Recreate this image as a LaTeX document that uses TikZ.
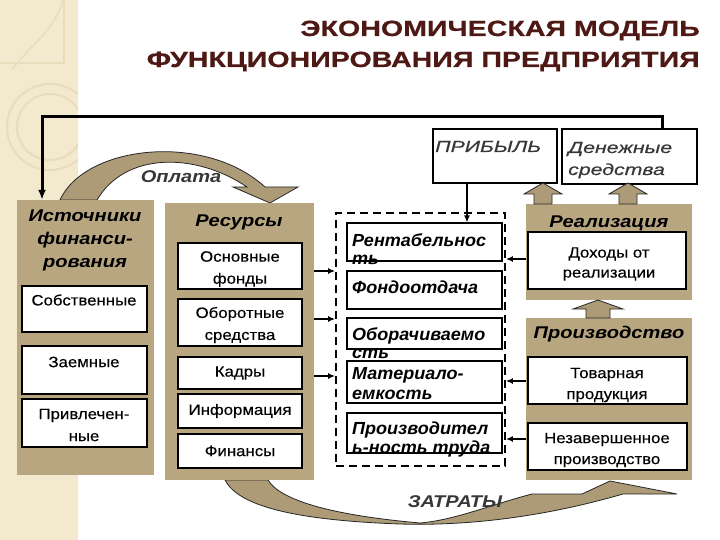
\documentclass[tikz,border=0pt]{standalone}
\usepackage{fontspec}
\setmainfont{Liberation Sans}
\newfontfamily\fTitle[FakeStretch=1.3,FakeBold=0.6]{Liberation Sans}
\newfontfamily\fHead[FakeStretch=1.18]{Liberation Sans}
\newfontfamily\fBody[FakeStretch=1.12,FakeBold=0.3]{Liberation Sans}
\newfontfamily\fDash[FakeStretch=1.03]{Liberation Sans}
\newfontfamily\fItal[FakeStretch=1.33,FakeBold=0.4]{Liberation Sans}
\usetikzlibrary{arrows.meta}
\definecolor{tan}{RGB}{184,166,128}
\definecolor{arrowtan}{RGB}{172,155,118}
\definecolor{strip}{RGB}{242,233,207}
\definecolor{stripline}{RGB}{232,220,188}
\definecolor{titlec}{RGB}{78,24,20}
\definecolor{txtgray}{RGB}{55,55,55}
\tikzset{
  tanbox/.style={fill=tan, draw=none, inner sep=0pt},
  wbox/.style={fill=white, draw=black, line width=1.1pt, inner sep=0pt},
  dashbox/.style={draw=black, line width=1.8pt, dash pattern=on 8pt off 5pt, inner sep=0pt},
  hdr/.style={font=\fHead\bfseries\itshape\fontsize{17}{23}\selectfont, align=center, inner sep=0pt},
  body/.style={font=\fBody\fontsize{15}{22}\selectfont, align=center, inner sep=0pt},
  dtxt/.style={font=\fDash\bfseries\itshape\fontsize{17.5}{20}\selectfont, anchor=base west, inner sep=0pt},
  itxt/.style={font=\fItal\itshape\fontsize{16}{22}\selectfont, text=txtgray, anchor=base west, inner sep=0pt},
  ttl/.style={font=\fTitle\bfseries\fontsize{22}{30}\selectfont, text=titlec, anchor=base east, inner sep=0pt},
  flow/.style={draw=black!85, line width=0.8pt, fill=arrowtan},
  conn/.style={line width=2pt, -{Latex[length=7pt,width=6pt]}},
  bigconn/.style={line width=3pt, -{Latex[length=10pt,width=8pt]}},
}
\begin{document}
\begin{tikzpicture}[x=1pt,y=-1pt]
\useasboundingbox (0,0) rectangle (720,540);
% left decorative strip
\fill[strip] (0,0) rectangle (78,540);
\begin{scope}
\clip (0,0) rectangle (78,540);
\draw[stripline, line width=2pt] (50,127) circle (33);
\draw[stripline, line width=2pt] (50,127) circle (43);
\draw[stripline, line width=1.5pt] (0,63) -- (64,63) -- (64,0);
\draw[stripline, line width=1.5pt] (63,0) .. controls (55,30) and (30,45) .. (12,70);
\end{scope}

% title
\node[ttl] (t1) at (700,36) {ЭКОНОМИЧЕСКАЯ МОДЕЛЬ};
\node[ttl] (t2) at (700,67) {ФУНКЦИОНИРОВАНИЯ ПРЕДПРИЯТИЯ};

% big flow arrows
\draw[flow] (60,200) .. controls (85,145) and (205,132) .. (265,187) -- (298,187) -- (270,203) -- (233,187) -- (247,187) .. controls (195,152) and (125,152) .. (97,200) -- cycle;
\draw[flow] (225,480) .. controls (238,505) and (290,520) .. (400,524) .. controls (500,527) and (585,505) .. (623,494) -- (677,494) -- (610,481) -- (582,494) -- (532,494) .. controls (490,505) and (455,520) .. (420,523) .. controls (330,515) and (280,500) .. (268,480) -- cycle;
\node[hdr, text=txtgray] (oplata) at (181,177) {Оплата};
\node[hdr, text=txtgray] (zatraty) at (455,502) {ЗАТРАТЫ};

% sources
\node[tanbox, minimum width=137pt, minimum height=275pt] (ist) at (85.5,337.5) {};
\node[wbox, minimum width=125pt, minimum height=46pt] (sob) at (84.5,309) {};
\node[wbox, minimum width=125pt, minimum height=48pt] (zaem) at (84.5,370) {};
\node[wbox, minimum width=125pt, minimum height=48pt] (priv) at (84.5,423) {};
\node[hdr] (isth) at (85,240) {Источники\\финанси-\\рования};
\node[body] (sobt) at (84,300) {Собственные};
\node[body] (zaemt) at (84,362) {Заемные};
\node[body] (privt) at (84,425) {Привлечен-\\ные};

% resources
\node[tanbox, minimum width=149pt, minimum height=277pt] (res) at (239.5,341.5) {};
\node[wbox, minimum width=124pt, minimum height=46pt] (osn) at (240,266) {};
\node[wbox, minimum width=124pt, minimum height=47pt] (obo) at (240,322.5) {};
\node[wbox, minimum width=124pt, minimum height=32pt] (kad) at (240,373) {};
\node[wbox, minimum width=124pt, minimum height=34pt] (inf) at (240,411) {};
\node[wbox, minimum width=124pt, minimum height=34pt] (fin) at (240,451) {};
\node[hdr] (resh) at (239,222) {Ресурсы};
\node[body] (osnt) at (240,269) {Основные\\фонды};
\node[body] (obot) at (240,325) {Оборотные\\средства};
\node[body] (kadt) at (240,373) {Кадры};
\node[body] (inft) at (240,411) {Информация};
\node[body] (fint) at (240,451) {Финансы};

% indicators
\node[dashbox, minimum width=169pt, minimum height=253pt] (dash) at (420.5,339.5) {};
\node[wbox, minimum width=155pt, minimum height=38pt] (rent) at (424.5,242) {};
\node[wbox, minimum width=155pt, minimum height=38pt] (fond) at (424.5,290) {};
\node[wbox, minimum width=155pt, minimum height=31pt] (obor) at (424.5,333.5) {};
\node[wbox, minimum width=155pt, minimum height=42pt] (mat) at (424.5,382) {};
\node[wbox, minimum width=155pt, minimum height=40pt] (proi) at (424.5,433) {};
\node[dtxt] (rent1) at (352,246) {Рентабельнос};
\node[dtxt] (rent2) at (352,264) {ть};
\node[dtxt] (fondt) at (352,293) {Фондоотдача};
\node[dtxt] (obor1) at (352,340) {Оборачиваемо};
\node[dtxt] (obor2) at (352,358) {сть};
\node[dtxt] (mat1) at (352,379) {Материало-};
\node[dtxt] (mat2) at (352,399) {емкость};
\node[dtxt] (proi1) at (352,434) {Производител};
\node[dtxt] (proi2) at (352,453) {ь-ность труда};

% profit & money
\node[wbox, minimum width=124pt, minimum height=54pt] (prib) at (495,156) {};
\node[wbox, minimum width=135pt, minimum height=55pt] (den) at (629.5,156.5) {};
\node[itxt] (pribt) at (435,152) {ПРИБЫЛЬ};
\node[itxt] (den1) at (568,153) {Денежные};
\node[itxt] (den2) at (568,175) {средства};

% realization
\node[tanbox, minimum width=166pt, minimum height=96pt] (real) at (609,252) {};
\node[wbox, minimum width=158pt, minimum height=57pt] (doh) at (607,260.5) {};
\node[hdr] (realh) at (609,223) {Реализация};
\node[body, font=\fBody\fontsize{15}{20}\selectfont] (doht) at (609,264) {Доходы от\\реализации};

% production
\node[tanbox, minimum width=166pt, minimum height=162pt] (prod) at (609,399) {};
\node[wbox, minimum width=159pt, minimum height=47pt] (tov) at (607.5,380.5) {};
\node[wbox, minimum width=159pt, minimum height=47pt] (nez) at (607.5,446.5) {};
\node[hdr] (prodh) at (609,334) {Производство};
\node[body, font=\fBody\fontsize{15}{21}\selectfont] (tovt) at (607,385) {Товарная\\продукция};
\node[body, font=\fBody\fontsize{15}{21}\selectfont] (nezt) at (607,450) {Незавершенное\\производство};

% block arrows upward
\draw[flow] (534,204) -- (534,194) -- (524,194) -- (543,183) -- (562,194) -- (552,194) -- (552,204) -- cycle;
\draw[flow] (619,204) -- (619,194) -- (609,194) -- (628,183) -- (647,194) -- (637,194) -- (637,204) -- cycle;
\draw[flow] (586,318) -- (586,309) -- (573,309) -- (598,300) -- (623,309) -- (610,309) -- (610,318) -- cycle;

% connectors
\coordinate (c1) at (662,117);
\coordinate (c2) at (42,117);
\draw[bigconn] (den.north -| c1) -- (c1) -- (c2) -- (ist.north -| c2);
\coordinate (pa) at (467,0);
\draw[conn] (prib.south -| pa) -- (rent.north -| pa);
\coordinate (y1) at (0,271);
\coordinate (y2) at (0,319);
\coordinate (y3) at (0,376);
\draw[conn] (res.east |- y1) -- (dash.west |- y1);
\draw[conn] (res.east |- y2) -- (dash.west |- y2);
\draw[conn] (res.east |- y3) -- (dash.west |- y3);
\coordinate (y4) at (0,259);
\coordinate (y5) at (0,381);
\coordinate (y6) at (0,439);
\draw[conn] (real.west |- y4) -- (dash.east |- y4);
\draw[conn] (prod.west |- y5) -- (dash.east |- y5);
\draw[conn] (prod.west |- y6) -- (dash.east |- y6);
\end{tikzpicture}
\end{document}
